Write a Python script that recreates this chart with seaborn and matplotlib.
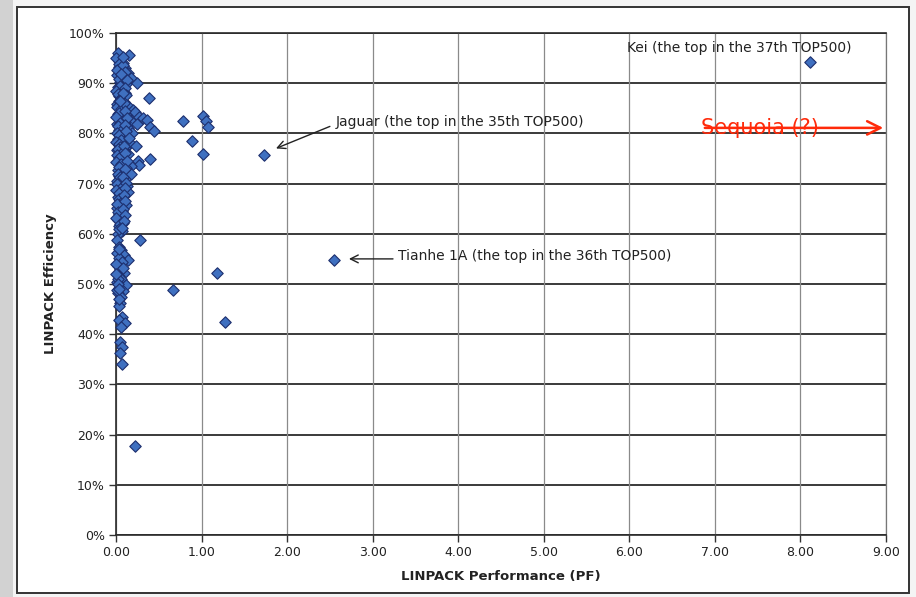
import matplotlib
matplotlib.use("Agg")
import matplotlib.pyplot as plt
from matplotlib.patches import Rectangle
from matplotlib.ticker import FuncFormatter
import seaborn as sns
import pandas as pd

# ---- data: LINPACK performance (PF) vs efficiency (%) ----
cluster_pf = [
    0.02, 0.15, 0.04, 0.08, 0.03, 0.10, 0.06, 0.14, 0.01, 0.09, 0.18, 0.24, 0.05, 0.12,
    0.02, 0.07, 0.11, 0.03, 0.39, 0.06, 0.09, 0.01, 0.14, 0.04, 0.20, 0.08, 0.22, 0.02,
    0.12, 0.27, 0.32, 0.36, 0.05, 0.17, 0.10, 0.01, 0.25, 0.07, 0.40, 0.14, 0.03, 0.44,
    0.09, 0.19, 0.05, 0.12, 0.02, 0.08, 0.16, 0.23, 0.04, 0.11, 0.01, 0.07, 0.14, 0.03,
    0.40, 0.26, 0.27, 0.09, 0.05, 0.18, 0.12, 0.02, 0.07, 0.18, 0.04, 0.10, 0.01, 0.06,
    0.13, 0.03, 0.14, 0.08, 0.02, 0.05, 0.12, 0.01, 0.07, 0.03, 0.05, 0.02, 0.08, 0.04,
    0.07, 0.02,
    0.00, 0.04, 0.06, 0.01, 0.03, 0.05, 0.00, 0.02, 0.07, 0.04, 0.01, 0.06, 0.03, 0.00,
    0.05, 0.02, 0.08, 0.01, 0.04, 0.06, 0.00, 0.03, 0.05, 0.02, 0.09, 0.01, 0.04, 0.00,
    0.06, 0.03, 0.02, 0.05, 0.01, 0.07, 0.00, 0.04, 0.03, 0.06, 0.01, 0.02, 0.00, 0.05,
    0.03, 0.01,
    0.08, 0.11, 0.13, 0.10, 0.12, 0.09, 0.11, 0.13, 0.10, 0.12, 0.15, 0.09, 0.11, 0.13,
    0.10, 0.08, 0.12, 0.10, 0.09, 0.11, 0.08, 0.10, 0.09, 0.07, 0.08, 0.06, 0.08, 0.05,
    0.03, 0.06, 0.01, 0.09, 0.14, 0.04, 0.07, 0.02, 0.05, 0.09, 0.03, 0.06, 0.01, 0.12,
    0.04, 0.08, 0.02, 0.06, 0.05, 0.03, 0.07, 0.04, 0.10, 0.06, 0.05, 0.07, 0.05, 0.07,
    0.00, 0.02, 0.01, 0.03, 0.00, 0.02, 0.04, 0.08, 0.03,
]
cluster_eff = [
    96.1, 95.6, 94.5, 94.0, 93.2, 93.0, 92.4, 92.0, 91.6, 91.2, 91.0, 90.0, 90.3, 89.8,
    89.2, 88.7, 88.0, 87.5, 87.0, 86.9, 86.2, 85.8, 85.5, 85.0, 84.6, 84.3, 84.3, 83.8,
    83.6, 83.2, 83.0, 82.7, 82.9, 82.5, 82.2, 81.8, 81.8, 81.3, 81.2, 81.0, 80.6, 80.4,
    80.2, 80.0, 79.5, 79.2, 78.9, 78.4, 78.0, 77.5, 77.6, 77.0, 76.6, 76.2, 75.8, 75.4,
    74.9, 74.5, 73.7, 74.8, 74.2, 73.6, 73.2, 72.8, 72.3, 72.0, 71.6, 71.0, 70.5, 70.0,
    69.6, 69.0, 68.4, 68.0, 67.4, 66.8, 65.7, 65.2, 64.6, 64.0, 63.4, 62.8, 62.2, 61.5,
    60.6, 60.0,
    95.0, 93.8, 92.9, 92.7, 90.9, 89.5, 88.4, 87.8, 87.3, 86.5, 85.2, 84.8, 84.0, 83.2,
    82.1, 81.5, 80.9, 80.1, 79.7, 78.7, 78.2, 77.9, 77.2, 76.9, 76.4, 75.7, 75.0, 74.3,
    73.9, 73.4, 71.9, 71.3, 69.9, 69.4, 68.7, 68.2, 67.0, 66.2, 66.0, 64.3, 63.1, 61.9,
    61.0, 58.8,
    93.6, 92.2, 90.6, 89.0, 87.6, 86.0, 84.5, 83.0, 81.6, 80.4, 79.0, 77.4, 76.0, 74.6,
    73.0, 71.4, 70.2, 69.2, 67.8, 66.5, 65.0, 63.8, 62.6, 61.2, 95.2, 91.8, 88.0, 86.4,
    57.4, 56.8, 56.2, 55.8, 54.8, 55.2, 54.4, 53.6, 52.9, 52.2, 51.6, 50.9, 50.3, 49.8,
    49.2, 48.6, 48.2, 47.5, 46.2, 45.6, 43.4, 42.8, 42.3, 41.5, 38.4, 37.4, 36.3, 34.0,
    54.0, 51.0, 48.8, 47.0, 52.0, 50.0, 57.0, 53.2, 49.0,
]
outlier_pf = [8.11, 1.73, 2.55, 1.18, 1.27, 0.67, 0.22, 0.28, 0.78, 0.89, 1.02, 1.02, 1.05, 1.08]
outlier_eff = [94.2, 75.7, 54.8, 52.2, 42.4, 48.8, 17.7, 58.8, 82.5, 78.5, 75.9, 83.4, 82.4, 81.2]

x_ticks = [0, 1, 2, 3, 4, 5, 6, 7, 8, 9]
y_ticks = [0, 10, 20, 30, 40, 50, 60, 70, 80, 90, 100]

df = pd.DataFrame({
    "pf": cluster_pf + outlier_pf,
    "eff": cluster_eff + outlier_eff,
})

W, H = 916, 597
fig = plt.figure(figsize=(W / 100, H / 100), dpi=100, facecolor="#f4f4f4")

# background strip and chart frame
fig.patches.append(Rectangle((0, 0), 13 / W, 1, transform=fig.transFigure,
                             facecolor="#d2d2d2", edgecolor="none", zorder=-2))
fig.patches.append(Rectangle((17 / W, 1 - 593 / H), (909 - 17) / W, (593 - 7) / H,
                             transform=fig.transFigure, facecolor="white",
                             edgecolor="#333333", linewidth=1.4, zorder=-1))

ax = fig.add_axes([116 / W, 1 - 535 / H, (886 - 116) / W, (535 - 33) / H])
ax.set_zorder(2)
ax.set_facecolor("white")

sns.scatterplot(data=df, x="pf", y="eff", marker="D", s=34, color="#3f70c0",
                edgecolor="#1d2f6e", linewidth=0.8, ax=ax, zorder=5, clip_on=False)

ax.set_xlim(0, 9)
ax.set_ylim(0, 100)
ax.set_xticks(x_ticks)
ax.set_yticks(y_ticks)
ax.xaxis.set_major_formatter(FuncFormatter(lambda v, p: f"{v:.2f}"))
ax.yaxis.set_major_formatter(FuncFormatter(lambda v, p: f"{v:.0f}%"))

for y in y_ticks:
    ax.axhline(y, color="#2b2b2b", linewidth=1.3, zorder=1)
for x in x_ticks:
    ax.axvline(x, color="#8a8a8a", linewidth=0.9, zorder=1)
for side in ["left", "bottom", "right", "top"]:
    ax.spines[side].set_color("#2b2b2b")
    ax.spines[side].set_linewidth(1.2)
ax.spines["right"].set_color("#777777")
ax.spines["right"].set_linewidth(0.9)

ax.tick_params(axis="both", direction="out", length=5, width=1, color="#333333",
               labelsize=9, labelcolor="#222222", pad=3)

ax.set_xlabel("LINPACK Performance (PF)", fontsize=9.5, fontweight="bold",
              color="#222222", labelpad=8)
ax.set_ylabel("LINPACK Efficiency", fontsize=9.5, fontweight="bold",
              color="#222222", labelpad=9)

txt_kw = dict(fontsize=10, color="#222222", va="center", ha="left", zorder=6)
ax.text(5.97, 97.0, "Kei (the top in the 37th TOP500)", **txt_kw)
ax.text(2.57, 82.3, "Jaguar (the top in the 35th TOP500)", **txt_kw)
ax.text(3.30, 55.6, "Tianhe 1A (the top in the 36th TOP500)", **txt_kw)

ax.annotate("", xy=(1.84, 76.8), xytext=(2.53, 81.6),
            arrowprops=dict(arrowstyle="->", color="#222222", lw=1.0,
                            mutation_scale=14), zorder=6)
ax.annotate("", xy=(2.69, 55.0), xytext=(3.27, 55.0),
            arrowprops=dict(arrowstyle="->", color="#222222", lw=1.0,
                            mutation_scale=14), zorder=6)

ax.annotate("", xy=(9.0, 81.1), xytext=(6.85, 81.1),
            arrowprops=dict(arrowstyle="->", color="#ff2a0a", lw=1.8,
                            mutation_scale=24), zorder=7, annotation_clip=False)
ax.text(7.53, 81.1, "Sequoia (?)", fontsize=15, color="#ff2a0a",
        ha="center", va="center", zorder=8)

fig.savefig("out.png", dpi=100, facecolor=fig.get_facecolor())
